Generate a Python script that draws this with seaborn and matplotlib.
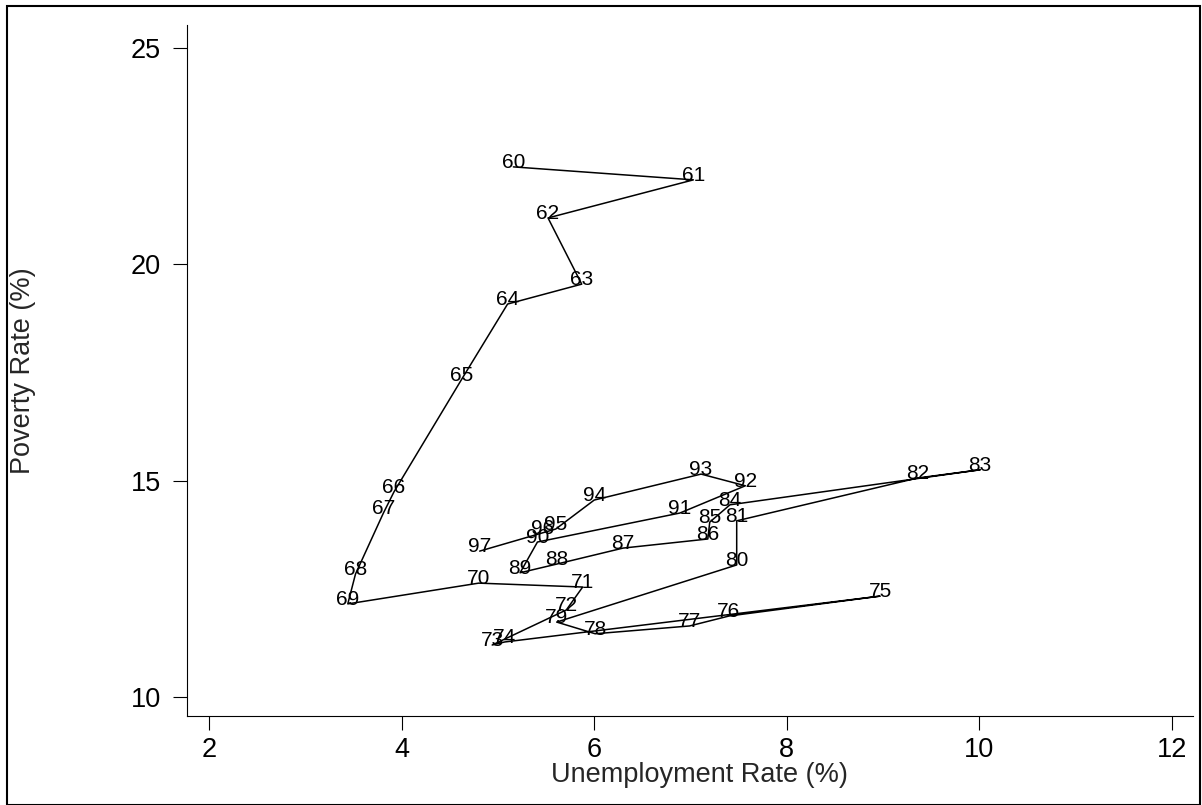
import matplotlib
matplotlib.use("Agg")
import matplotlib.pyplot as plt
import matplotlib.patches as mpatches
import numpy as np
import pandas as pd
import seaborn as sns

# Year labels (19xx) and the values
years = ["60", "61", "62", "63", "64", "65", "66", "67", "68", "69",
         "70", "71", "72", "73", "74", "75", "76", "77", "78", "79",
         "80", "81", "82", "83", "84", "85", "86", "87", "88", "89",
         "90", "91", "92", "93", "94", "95", "96", "97"]
unemployment = [5.16, 7.03, 5.52, 5.87, 5.10, 4.62, 3.92, 3.81, 3.52, 3.44,
                4.80, 5.88, 5.71, 4.94, 5.07, 8.97, 7.40, 6.99, 6.01, 5.61,
                7.48, 7.48, 9.36, 10.01, 7.41, 7.20, 7.18, 6.30, 5.61, 5.23,
                5.41, 6.89, 7.57, 7.11, 6.00, 5.60, 5.46, 4.81]
poverty = [22.25, 21.95, 21.07, 19.54, 19.08, 17.33, 14.74, 14.25, 12.84, 12.15,
           12.63, 12.54, 12.01, 11.20, 11.27, 12.33, 11.87, 11.64, 11.46, 11.73,
           13.05, 14.07, 15.06, 15.25, 14.44, 14.04, 13.65, 13.44, 13.07, 12.87,
           13.58, 14.25, 14.88, 15.15, 14.55, 13.88, 13.79, 13.37]

x_ticks = [2, 4, 6, 8, 10, 12]
y_ticks = [10, 15, 20, 25]

df = pd.DataFrame({"year": years, "unemp": unemployment, "pov": poverty})

sns.set_style("ticks")
plt.rcParams['font.family'] = ['Liberation Sans', 'DejaVu Sans']

fig = plt.figure(figsize=(12.02, 8.05), dpi=100)
ax = fig.add_axes([0.1556, 0.1106, 0.8369, 0.8584])

sns.lineplot(data=df, x="unemp", y="pov", sort=False, estimator=None,
             color="black", linewidth=1.1, ax=ax)

# year labels centred on each point
for _, row in df.iterrows():
    ax.annotate(row["year"], (row["unemp"], row["pov"]), xytext=(0, 3),
                textcoords="offset points", ha="center", va="center",
                fontsize=15, color="black")

ax.set_xlim(1.77, 12.22)
ax.set_ylim(9.56, 25.53)
ax.set_xticks(x_ticks)
ax.set_yticks(y_ticks)
ax.tick_params(axis="both", length=10, width=0.8, labelsize=19.5, color="black", labelcolor="black")
ax.tick_params(axis="x", pad=5)
ax.tick_params(axis="y", pad=9)

ax.set_xlabel("Unemployment Rate (%)", fontsize=19.5)
ax.set_ylabel("Poverty Rate (%)", fontsize=19.5)
ax.xaxis.set_label_coords(0.509, -0.066)
ax.yaxis.set_label_coords(-0.150, 0.5)

sns.despine(ax=ax)
for side in ["left", "bottom"]:
    ax.spines[side].set_linewidth(0.8)
    ax.spines[side].set_color("black")

# outer frame around the whole graph
frame = mpatches.Rectangle((7 / 1202, 0.5 / 805), (1200 - 7) / 1202, (799 - 0.5) / 805,
                           transform=fig.transFigure, fill=False, edgecolor="black", linewidth=1.5)
fig.patches.append(frame)

fig.savefig("out.png", dpi=100)
